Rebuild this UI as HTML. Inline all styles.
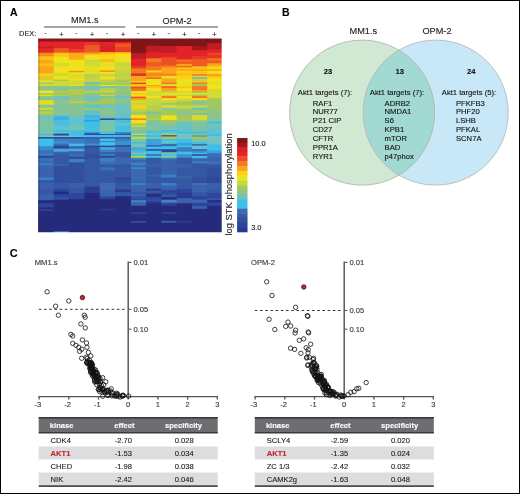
<!DOCTYPE html>
<html><head><meta charset="utf-8"><style>
html,body{margin:0;padding:0;background:#fff;}
#w{position:relative;width:520px;height:494px;overflow:hidden;background:#fff;}
svg{position:absolute;left:0;top:0;}
#lay{position:absolute;left:0;top:0;width:520px;height:494px;will-change:transform;}
svg text{font-family:"Liberation Sans", sans-serif;}
#bd{position:absolute;left:0;top:0;width:520px;height:494px;box-sizing:border-box;border:1px solid #000;}
</style></head><body><div id="w">
<div id="lay"><svg width="520" height="494" viewBox="0 0 520 494">
<defs><filter id="bl" x="-0.05" y="-0.05" width="1.1" height="1.1"><feGaussianBlur stdDeviation="0.6"/></filter><filter id="bl2" x="-0.2" y="-0.05" width="1.4" height="1.1"><feGaussianBlur stdDeviation="0.4"/></filter><clipPath id="hc"><rect x="38.1" y="38.5" width="183.6" height="193.8"/></clipPath></defs>
<text x="9.9" y="16" font-size="10.5" font-weight="bold" fill="#000" stroke="#000" stroke-width="0.12">A</text>
<text x="84.8" y="23.4" font-size="9.2" fill="#222" stroke="#222" stroke-width="0.12" text-anchor="middle">MM1.s</text>
<text x="177.1" y="23.5" font-size="9.2" fill="#222" stroke="#222" stroke-width="0.12" text-anchor="middle">OPM-2</text>
<line x1="43.9" y1="26.9" x2="125.3" y2="26.9" stroke="#878787" stroke-width="1.5"/>
<line x1="136" y1="26.9" x2="218" y2="26.9" stroke="#878787" stroke-width="1.5"/>
<text x="19.1" y="35.6" font-size="7.4" fill="#222" stroke="#222" stroke-width="0.12">DEX:</text>
<text x="45.50" y="35.3" font-size="7.3" fill="#222" stroke="#222" stroke-width="0.12" text-anchor="middle">-</text>
<text x="61.30" y="36.8" font-size="8.0" fill="#222" stroke="#222" stroke-width="0.12" text-anchor="middle">+</text>
<text x="76.25" y="35.3" font-size="7.3" fill="#222" stroke="#222" stroke-width="0.12" text-anchor="middle">-</text>
<text x="92.10" y="36.8" font-size="8.0" fill="#222" stroke="#222" stroke-width="0.12" text-anchor="middle">+</text>
<text x="107.05" y="35.3" font-size="7.3" fill="#222" stroke="#222" stroke-width="0.12" text-anchor="middle">-</text>
<text x="123.05" y="36.8" font-size="8.0" fill="#222" stroke="#222" stroke-width="0.12" text-anchor="middle">+</text>
<text x="138.15" y="35.3" font-size="7.3" fill="#222" stroke="#222" stroke-width="0.12" text-anchor="middle">-</text>
<text x="153.75" y="36.8" font-size="8.0" fill="#222" stroke="#222" stroke-width="0.12" text-anchor="middle">+</text>
<text x="168.60" y="35.3" font-size="7.3" fill="#222" stroke="#222" stroke-width="0.12" text-anchor="middle">-</text>
<text x="184.30" y="36.8" font-size="8.0" fill="#222" stroke="#222" stroke-width="0.12" text-anchor="middle">+</text>
<text x="199.20" y="35.3" font-size="7.3" fill="#222" stroke="#222" stroke-width="0.12" text-anchor="middle">-</text>
<text x="214.45" y="36.8" font-size="8.0" fill="#222" stroke="#222" stroke-width="0.12" text-anchor="middle">+</text>
<g clip-path="url(#hc)"><g filter="url(#bl)"><rect x="35.10" y="35.50" width="19.60" height="7.07" fill="#8a1519"/>
<rect x="35.10" y="41.57" width="19.60" height="6.06" fill="#e8232a"/>
<rect x="35.10" y="46.63" width="19.60" height="2.52" fill="#b8202a"/>
<rect x="35.10" y="48.15" width="19.60" height="5.55" fill="#e02a2a"/>
<rect x="35.10" y="52.70" width="19.60" height="4.54" fill="#f58a1f"/>
<rect x="35.10" y="56.24" width="19.60" height="5.05" fill="#fbbf16"/>
<rect x="35.10" y="60.29" width="19.60" height="4.04" fill="#f9a51b"/>
<rect x="35.10" y="63.33" width="19.60" height="4.04" fill="#fbbf16"/>
<rect x="35.10" y="66.36" width="19.60" height="8.09" fill="#f9a51b"/>
<rect x="35.10" y="73.45" width="19.60" height="3.02" fill="#e2de26"/>
<rect x="35.10" y="75.47" width="19.60" height="4.04" fill="#fbbf16"/>
<rect x="35.10" y="78.51" width="19.60" height="3.02" fill="#c8d63c"/>
<rect x="35.10" y="80.53" width="19.60" height="3.02" fill="#ece220"/>
<rect x="35.10" y="82.56" width="19.60" height="2.01" fill="#6fc2b4"/>
<rect x="35.10" y="83.57" width="19.60" height="2.43" fill="#d5da30"/>
<rect x="35.10" y="85.00" width="19.60" height="2.01" fill="#d5da30"/>
<rect x="35.10" y="86.01" width="19.60" height="5.55" fill="#8ec48a"/>
<rect x="35.10" y="90.57" width="19.60" height="3.53" fill="#e9e520"/>
<rect x="35.10" y="93.10" width="19.60" height="2.52" fill="#a6c85a"/>
<rect x="35.10" y="94.62" width="19.60" height="2.52" fill="#d5da30"/>
<rect x="35.10" y="96.13" width="19.60" height="5.05" fill="#86c494"/>
<rect x="35.10" y="100.18" width="19.60" height="5.55" fill="#e2df24"/>
<rect x="35.10" y="104.74" width="19.60" height="4.04" fill="#86c494"/>
<rect x="35.10" y="107.77" width="19.60" height="3.02" fill="#d5da30"/>
<rect x="35.10" y="109.80" width="19.60" height="2.52" fill="#8ec48a"/>
<rect x="35.10" y="111.32" width="19.60" height="4.04" fill="#b8d04a"/>
<rect x="35.10" y="114.35" width="19.60" height="2.01" fill="#8ec48a"/>
<rect x="35.10" y="115.36" width="19.60" height="5.05" fill="#6fc2c0"/>
<rect x="35.10" y="119.41" width="19.60" height="3.02" fill="#86c494"/>
<rect x="35.10" y="121.44" width="19.60" height="4.04" fill="#75c3b2"/>
<rect x="35.10" y="124.47" width="19.60" height="3.02" fill="#86c494"/>
<rect x="35.10" y="126.50" width="19.60" height="5.05" fill="#75c3b2"/>
<rect x="35.10" y="130.55" width="19.60" height="4.04" fill="#7cc3a6"/>
<rect x="35.10" y="133.58" width="19.60" height="1.42" fill="#4ac0e0"/>
<rect x="35.10" y="134.00" width="19.60" height="2.52" fill="#3dbfe8"/>
<rect x="35.10" y="135.52" width="19.60" height="2.52" fill="#8ec4a0"/>
<rect x="35.10" y="137.04" width="19.60" height="2.52" fill="#2d4899"/>
<rect x="35.10" y="138.55" width="19.60" height="8.59" fill="#3dbfe8"/>
<rect x="35.10" y="146.15" width="19.60" height="5.05" fill="#3a8ad0"/>
<rect x="35.10" y="150.19" width="19.60" height="4.54" fill="#3a70b8"/>
<rect x="35.10" y="153.74" width="19.60" height="3.02" fill="#3a80c5"/>
<rect x="35.10" y="155.76" width="19.60" height="3.02" fill="#2d4899"/>
<rect x="35.10" y="157.79" width="19.60" height="4.54" fill="#3a70b8"/>
<rect x="35.10" y="161.33" width="19.60" height="3.02" fill="#3a68b2"/>
<rect x="35.10" y="163.35" width="19.60" height="3.02" fill="#3a80c5"/>
<rect x="35.10" y="165.38" width="19.60" height="13.15" fill="#3a63ad"/>
<rect x="35.10" y="177.52" width="19.60" height="3.53" fill="#3a80c5"/>
<rect x="35.10" y="180.05" width="19.60" height="3.95" fill="#3558a5"/>
<rect x="35.10" y="183.00" width="19.60" height="7.07" fill="#3a5fac"/>
<rect x="35.10" y="189.07" width="19.60" height="6.06" fill="#3558a5"/>
<rect x="35.10" y="194.13" width="19.60" height="7.07" fill="#3a5fac"/>
<rect x="35.10" y="200.21" width="19.60" height="4.04" fill="#262b7a"/>
<rect x="35.10" y="203.24" width="19.60" height="5.05" fill="#2d44a0"/>
<rect x="35.10" y="207.29" width="19.60" height="3.02" fill="#262b7a"/>
<rect x="35.10" y="209.32" width="19.60" height="2.52" fill="#2d44a0"/>
<rect x="35.10" y="210.83" width="19.60" height="25.47" fill="#262b7a"/>
<rect x="53.70" y="35.50" width="16.20" height="7.07" fill="#8a1519"/>
<rect x="53.70" y="41.57" width="16.20" height="7.58" fill="#e3262a"/>
<rect x="53.70" y="48.15" width="16.20" height="5.55" fill="#ee5a24"/>
<rect x="53.70" y="52.70" width="16.20" height="5.05" fill="#fcc414"/>
<rect x="53.70" y="56.75" width="16.20" height="7.07" fill="#f0e31e"/>
<rect x="53.70" y="62.82" width="16.20" height="4.54" fill="#d4da30"/>
<rect x="53.70" y="66.36" width="16.20" height="8.09" fill="#eee21f"/>
<rect x="53.70" y="73.45" width="16.20" height="3.02" fill="#c8d63c"/>
<rect x="53.70" y="75.47" width="16.20" height="5.05" fill="#eee21f"/>
<rect x="53.70" y="79.52" width="16.20" height="2.52" fill="#a8ca5c"/>
<rect x="53.70" y="81.04" width="16.20" height="4.96" fill="#d0d936"/>
<rect x="53.70" y="85.00" width="16.20" height="2.01" fill="#d0d936"/>
<rect x="53.70" y="86.01" width="16.20" height="5.55" fill="#86c494"/>
<rect x="53.70" y="90.57" width="16.20" height="3.02" fill="#b0cc50"/>
<rect x="53.70" y="92.59" width="16.20" height="3.02" fill="#9ec66a"/>
<rect x="53.70" y="94.62" width="16.20" height="2.52" fill="#b0cc50"/>
<rect x="53.70" y="96.13" width="16.20" height="5.05" fill="#6fc2c0"/>
<rect x="53.70" y="100.18" width="16.20" height="6.06" fill="#8ec48a"/>
<rect x="53.70" y="105.24" width="16.20" height="3.53" fill="#75c3b2"/>
<rect x="53.70" y="107.77" width="16.20" height="7.58" fill="#86c494"/>
<rect x="53.70" y="114.35" width="16.20" height="3.02" fill="#6fc2c0"/>
<rect x="53.70" y="116.38" width="16.20" height="4.54" fill="#3ab0e4"/>
<rect x="53.70" y="119.92" width="16.20" height="6.57" fill="#4ac0e0"/>
<rect x="53.70" y="125.49" width="16.20" height="5.55" fill="#5ec3d0"/>
<rect x="53.70" y="130.04" width="16.20" height="2.52" fill="#3dbfe8"/>
<rect x="53.70" y="131.56" width="16.20" height="3.02" fill="#5ec3d0"/>
<rect x="53.70" y="133.58" width="16.20" height="1.42" fill="#2d4899"/>
<rect x="53.70" y="134.00" width="16.20" height="2.52" fill="#2d4899"/>
<rect x="53.70" y="135.52" width="16.20" height="2.52" fill="#6fc2c0"/>
<rect x="53.70" y="137.04" width="16.20" height="2.52" fill="#2d4899"/>
<rect x="53.70" y="138.55" width="16.20" height="3.53" fill="#3a80c5"/>
<rect x="53.70" y="141.09" width="16.20" height="3.53" fill="#3a90d0"/>
<rect x="53.70" y="143.62" width="16.20" height="3.02" fill="#3a70b8"/>
<rect x="53.70" y="145.64" width="16.20" height="4.04" fill="#2d4899"/>
<rect x="53.70" y="148.68" width="16.20" height="4.04" fill="#4aa8dc"/>
<rect x="53.70" y="151.71" width="16.20" height="3.02" fill="#3a63ad"/>
<rect x="53.70" y="153.74" width="16.20" height="11.63" fill="#3558a5"/>
<rect x="53.70" y="164.36" width="16.20" height="2.52" fill="#3a63ad"/>
<rect x="53.70" y="165.88" width="16.20" height="18.12" fill="#33509f"/>
<rect x="53.70" y="183.00" width="16.20" height="7.07" fill="#3558a5"/>
<rect x="53.70" y="189.07" width="16.20" height="3.53" fill="#2d44a0"/>
<rect x="53.70" y="191.60" width="16.20" height="3.53" fill="#262b7a"/>
<rect x="53.70" y="194.13" width="16.20" height="3.53" fill="#2d44a0"/>
<rect x="53.70" y="196.66" width="16.20" height="4.04" fill="#3050a5"/>
<rect x="53.70" y="199.70" width="16.20" height="32.68" fill="#262b7a"/>
<rect x="53.70" y="231.38" width="16.20" height="4.92" fill="#4a90e0"/>
<rect x="68.90" y="35.50" width="16.50" height="7.07" fill="#8a1519"/>
<rect x="68.90" y="41.57" width="16.50" height="8.59" fill="#e8232a"/>
<rect x="68.90" y="49.16" width="16.50" height="4.54" fill="#ea4027"/>
<rect x="68.90" y="52.70" width="16.50" height="8.09" fill="#fbad19"/>
<rect x="68.90" y="59.79" width="16.50" height="12.13" fill="#f0e31e"/>
<rect x="68.90" y="70.92" width="16.50" height="2.32" fill="#f6921e"/>
<rect x="68.90" y="72.23" width="16.50" height="3.23" fill="#eee21f"/>
<rect x="68.90" y="74.46" width="16.50" height="5.05" fill="#dcdc2c"/>
<rect x="68.90" y="78.51" width="16.50" height="3.02" fill="#ece220"/>
<rect x="68.90" y="80.53" width="16.50" height="5.47" fill="#d0d936"/>
<rect x="68.90" y="85.00" width="16.50" height="2.01" fill="#e9e520"/>
<rect x="68.90" y="86.01" width="16.50" height="4.04" fill="#86c494"/>
<rect x="68.90" y="89.05" width="16.50" height="7.07" fill="#b0cc50"/>
<rect x="68.90" y="95.12" width="16.50" height="7.07" fill="#8ec48a"/>
<rect x="68.90" y="101.19" width="16.50" height="3.02" fill="#b8d04a"/>
<rect x="68.90" y="103.22" width="16.50" height="13.15" fill="#86c494"/>
<rect x="68.90" y="115.36" width="16.50" height="4.04" fill="#6fc2c0"/>
<rect x="68.90" y="118.40" width="16.50" height="8.09" fill="#5ec3d0"/>
<rect x="68.90" y="125.49" width="16.50" height="5.55" fill="#75c3b2"/>
<rect x="68.90" y="130.04" width="16.50" height="3.53" fill="#4ac0e0"/>
<rect x="68.90" y="132.57" width="16.50" height="2.43" fill="#3dbfe8"/>
<rect x="68.90" y="134.00" width="16.50" height="2.52" fill="#3dbfe8"/>
<rect x="68.90" y="135.52" width="16.50" height="2.52" fill="#5ec3d0"/>
<rect x="68.90" y="137.04" width="16.50" height="2.52" fill="#2d4899"/>
<rect x="68.90" y="138.55" width="16.50" height="6.06" fill="#3a80c5"/>
<rect x="68.90" y="143.62" width="16.50" height="3.53" fill="#3dbfe8"/>
<rect x="68.90" y="146.15" width="16.50" height="3.53" fill="#3a63ad"/>
<rect x="68.90" y="148.68" width="16.50" height="3.53" fill="#4aa8dc"/>
<rect x="68.90" y="151.21" width="16.50" height="4.04" fill="#3a63ad"/>
<rect x="68.90" y="154.24" width="16.50" height="3.53" fill="#3a70b8"/>
<rect x="68.90" y="156.77" width="16.50" height="3.02" fill="#2d4899"/>
<rect x="68.90" y="158.80" width="16.50" height="4.54" fill="#3a80c5"/>
<rect x="68.90" y="162.34" width="16.50" height="21.66" fill="#33509f"/>
<rect x="68.90" y="183.00" width="16.50" height="6.06" fill="#3a5fac"/>
<rect x="68.90" y="188.06" width="16.50" height="6.06" fill="#3558a5"/>
<rect x="68.90" y="193.12" width="16.50" height="7.07" fill="#2d44a0"/>
<rect x="68.90" y="199.19" width="16.50" height="37.11" fill="#262b7a"/>
<rect x="84.40" y="35.50" width="16.40" height="7.37" fill="#8e171b"/>
<rect x="84.40" y="41.87" width="16.40" height="4.24" fill="#e8302a"/>
<rect x="84.40" y="45.11" width="16.40" height="8.09" fill="#ec5a25"/>
<rect x="84.40" y="52.19" width="16.40" height="2.52" fill="#f58a1f"/>
<rect x="84.40" y="53.71" width="16.40" height="2.52" fill="#fcc414"/>
<rect x="84.40" y="55.23" width="16.40" height="3.02" fill="#f5e01a"/>
<rect x="84.40" y="57.26" width="16.40" height="3.53" fill="#eee21f"/>
<rect x="84.40" y="59.79" width="16.40" height="3.02" fill="#c8d63c"/>
<rect x="84.40" y="61.81" width="16.40" height="5.55" fill="#d4da30"/>
<rect x="84.40" y="66.36" width="16.40" height="5.05" fill="#e6e023"/>
<rect x="84.40" y="70.41" width="16.40" height="4.54" fill="#e2de26"/>
<rect x="84.40" y="73.96" width="16.40" height="5.55" fill="#b9d348"/>
<rect x="84.40" y="78.51" width="16.40" height="4.54" fill="#c8d63c"/>
<rect x="84.40" y="82.05" width="16.40" height="3.02" fill="#6fc2b4"/>
<rect x="84.40" y="84.08" width="16.40" height="1.92" fill="#a8ca5c"/>
<rect x="84.40" y="85.00" width="16.40" height="2.01" fill="#a6c85a"/>
<rect x="84.40" y="86.01" width="16.40" height="5.55" fill="#75c3b2"/>
<rect x="84.40" y="90.57" width="16.40" height="3.53" fill="#b8d04a"/>
<rect x="84.40" y="93.10" width="16.40" height="4.04" fill="#86c494"/>
<rect x="84.40" y="96.13" width="16.40" height="4.54" fill="#6fc2c0"/>
<rect x="84.40" y="99.68" width="16.40" height="3.53" fill="#86c494"/>
<rect x="84.40" y="102.21" width="16.40" height="3.02" fill="#a6c85a"/>
<rect x="84.40" y="104.23" width="16.40" height="4.54" fill="#64c2c8"/>
<rect x="84.40" y="107.77" width="16.40" height="3.02" fill="#a6c85a"/>
<rect x="84.40" y="109.80" width="16.40" height="6.57" fill="#64c2c8"/>
<rect x="84.40" y="115.36" width="16.40" height="3.02" fill="#3ab0e4"/>
<rect x="84.40" y="117.39" width="16.40" height="3.53" fill="#3dbfe8"/>
<rect x="84.40" y="119.92" width="16.40" height="2.52" fill="#3a9ad8"/>
<rect x="84.40" y="121.44" width="16.40" height="7.07" fill="#3dbfe8"/>
<rect x="84.40" y="127.51" width="16.40" height="3.53" fill="#4ac0e0"/>
<rect x="84.40" y="130.04" width="16.40" height="3.53" fill="#3dbfe8"/>
<rect x="84.40" y="132.57" width="16.40" height="2.43" fill="#3a63ad"/>
<rect x="84.40" y="134.00" width="16.40" height="2.01" fill="#2d4899"/>
<rect x="84.40" y="135.01" width="16.40" height="3.02" fill="#3dbfe8"/>
<rect x="84.40" y="137.04" width="16.40" height="2.52" fill="#3558a5"/>
<rect x="84.40" y="138.55" width="16.40" height="6.06" fill="#3a70b8"/>
<rect x="84.40" y="143.62" width="16.40" height="3.02" fill="#3a90d0"/>
<rect x="84.40" y="145.64" width="16.40" height="2.52" fill="#2d4899"/>
<rect x="84.40" y="147.16" width="16.40" height="8.09" fill="#3558a5"/>
<rect x="84.40" y="154.24" width="16.40" height="5.05" fill="#31509f"/>
<rect x="84.40" y="158.29" width="16.40" height="25.71" fill="#3558a5"/>
<rect x="84.40" y="183.00" width="16.40" height="4.54" fill="#3558a5"/>
<rect x="84.40" y="186.54" width="16.40" height="7.58" fill="#2d3a95"/>
<rect x="84.40" y="193.12" width="16.40" height="43.18" fill="#262b7a"/>
<rect x="99.80" y="35.50" width="16.30" height="7.37" fill="#7d1517"/>
<rect x="99.80" y="41.87" width="16.30" height="5.25" fill="#e3222a"/>
<rect x="99.80" y="46.12" width="16.30" height="6.06" fill="#d92027"/>
<rect x="99.80" y="51.18" width="16.30" height="2.01" fill="#e3222a"/>
<rect x="99.80" y="52.19" width="16.30" height="3.53" fill="#fbbf16"/>
<rect x="99.80" y="54.72" width="16.30" height="5.55" fill="#f9d71a"/>
<rect x="99.80" y="59.28" width="16.30" height="3.53" fill="#fbbb16"/>
<rect x="99.80" y="61.81" width="16.30" height="5.55" fill="#e6e023"/>
<rect x="99.80" y="66.36" width="16.30" height="5.05" fill="#f5e01a"/>
<rect x="99.80" y="70.41" width="16.30" height="2.52" fill="#f6921e"/>
<rect x="99.80" y="71.93" width="16.30" height="3.02" fill="#ebe221"/>
<rect x="99.80" y="73.96" width="16.30" height="3.53" fill="#c8d63c"/>
<rect x="99.80" y="76.49" width="16.30" height="4.04" fill="#f5e01a"/>
<rect x="99.80" y="79.52" width="16.30" height="3.53" fill="#b9d348"/>
<rect x="99.80" y="82.05" width="16.30" height="3.95" fill="#a8ca5c"/>
<rect x="99.80" y="85.00" width="16.30" height="2.01" fill="#e9e520"/>
<rect x="99.80" y="86.01" width="16.30" height="3.02" fill="#75c3b2"/>
<rect x="99.80" y="88.04" width="16.30" height="4.04" fill="#b8d04a"/>
<rect x="99.80" y="91.07" width="16.30" height="2.52" fill="#c8d63c"/>
<rect x="99.80" y="92.59" width="16.30" height="3.02" fill="#8ec48a"/>
<rect x="99.80" y="94.62" width="16.30" height="2.52" fill="#c8d63c"/>
<rect x="99.80" y="96.13" width="16.30" height="2.52" fill="#75c3b2"/>
<rect x="99.80" y="97.65" width="16.30" height="7.58" fill="#a6c85a"/>
<rect x="99.80" y="104.23" width="16.30" height="5.05" fill="#6fc2c0"/>
<rect x="99.80" y="108.28" width="16.30" height="3.53" fill="#86c494"/>
<rect x="99.80" y="110.81" width="16.30" height="5.55" fill="#8ec48a"/>
<rect x="99.80" y="115.36" width="16.30" height="4.04" fill="#6fc2c0"/>
<rect x="99.80" y="118.40" width="16.30" height="2.52" fill="#2d4899"/>
<rect x="99.80" y="119.92" width="16.30" height="6.57" fill="#75c3b2"/>
<rect x="99.80" y="125.49" width="16.30" height="7.07" fill="#80c3a0"/>
<rect x="99.80" y="131.56" width="16.30" height="3.44" fill="#4ac0e0"/>
<rect x="99.80" y="134.00" width="16.30" height="2.01" fill="#33509f"/>
<rect x="99.80" y="135.01" width="16.30" height="3.02" fill="#3dbfe8"/>
<rect x="99.80" y="137.04" width="16.30" height="2.52" fill="#3558a5"/>
<rect x="99.80" y="138.55" width="16.30" height="3.53" fill="#45c0e8"/>
<rect x="99.80" y="141.09" width="16.30" height="2.01" fill="#3a80c5"/>
<rect x="99.80" y="142.10" width="16.30" height="4.54" fill="#3dbfe8"/>
<rect x="99.80" y="145.64" width="16.30" height="2.52" fill="#2d4899"/>
<rect x="99.80" y="147.16" width="16.30" height="3.53" fill="#4aa8dc"/>
<rect x="99.80" y="149.69" width="16.30" height="3.53" fill="#3a80c5"/>
<rect x="99.80" y="152.22" width="16.30" height="2.52" fill="#3558a5"/>
<rect x="99.80" y="153.74" width="16.30" height="3.02" fill="#3a80c5"/>
<rect x="99.80" y="155.76" width="16.30" height="3.02" fill="#2d4899"/>
<rect x="99.80" y="157.79" width="16.30" height="4.54" fill="#3a80c5"/>
<rect x="99.80" y="161.33" width="16.30" height="4.04" fill="#3a70b8"/>
<rect x="99.80" y="164.36" width="16.30" height="4.04" fill="#3558a5"/>
<rect x="99.80" y="167.40" width="16.30" height="4.04" fill="#3a70b8"/>
<rect x="99.80" y="170.44" width="16.30" height="13.56" fill="#3558a5"/>
<rect x="99.80" y="183.00" width="16.30" height="8.09" fill="#4068b5"/>
<rect x="99.80" y="190.09" width="16.30" height="7.58" fill="#3a63ad"/>
<rect x="99.80" y="196.66" width="16.30" height="3.53" fill="#2d44a0"/>
<rect x="99.80" y="199.19" width="16.30" height="10.62" fill="#262b7a"/>
<rect x="99.80" y="208.81" width="16.30" height="2.52" fill="#2d3a90"/>
<rect x="99.80" y="210.33" width="16.30" height="25.97" fill="#262b7a"/>
<rect x="115.10" y="35.50" width="16.90" height="7.37" fill="#8e171b"/>
<rect x="115.10" y="41.87" width="16.90" height="2.72" fill="#e3262a"/>
<rect x="115.10" y="43.59" width="16.90" height="4.54" fill="#ee5a24"/>
<rect x="115.10" y="47.13" width="16.90" height="6.06" fill="#e8402a"/>
<rect x="115.10" y="52.19" width="16.90" height="2.52" fill="#fcc414"/>
<rect x="115.10" y="53.71" width="16.90" height="4.54" fill="#f9e01a"/>
<rect x="115.10" y="57.26" width="16.90" height="6.06" fill="#eee21f"/>
<rect x="115.10" y="62.32" width="16.90" height="5.05" fill="#c8d63c"/>
<rect x="115.10" y="66.36" width="16.90" height="4.04" fill="#d4da30"/>
<rect x="115.10" y="69.40" width="16.90" height="5.05" fill="#c4d640"/>
<rect x="115.10" y="73.45" width="16.90" height="4.04" fill="#b9d348"/>
<rect x="115.10" y="76.49" width="16.90" height="4.04" fill="#c8d63c"/>
<rect x="115.10" y="79.52" width="16.90" height="6.48" fill="#a8ca5c"/>
<rect x="115.10" y="85.00" width="16.90" height="2.01" fill="#d5da30"/>
<rect x="115.10" y="86.01" width="16.90" height="4.04" fill="#86c494"/>
<rect x="115.10" y="89.05" width="16.90" height="3.02" fill="#a6c85a"/>
<rect x="115.10" y="91.07" width="16.90" height="6.06" fill="#8ec48a"/>
<rect x="115.10" y="96.13" width="16.90" height="3.02" fill="#64c2c8"/>
<rect x="115.10" y="98.16" width="16.90" height="7.07" fill="#86c494"/>
<rect x="115.10" y="104.23" width="16.90" height="11.12" fill="#6fc2c0"/>
<rect x="115.10" y="114.35" width="16.90" height="5.05" fill="#64c2c8"/>
<rect x="115.10" y="118.40" width="16.90" height="2.52" fill="#3a80c5"/>
<rect x="115.10" y="119.92" width="16.90" height="4.54" fill="#4ac0e0"/>
<rect x="115.10" y="123.46" width="16.90" height="3.02" fill="#6fc2c0"/>
<rect x="115.10" y="125.49" width="16.90" height="4.04" fill="#3dbfe8"/>
<rect x="115.10" y="128.52" width="16.90" height="4.54" fill="#4ac0e0"/>
<rect x="115.10" y="132.06" width="16.90" height="2.94" fill="#3a80c5"/>
<rect x="115.10" y="134.00" width="16.90" height="2.01" fill="#33509f"/>
<rect x="115.10" y="135.01" width="16.90" height="3.02" fill="#3dbfe8"/>
<rect x="115.10" y="137.04" width="16.90" height="2.52" fill="#3558a5"/>
<rect x="115.10" y="138.55" width="16.90" height="3.53" fill="#3a80c5"/>
<rect x="115.10" y="141.09" width="16.90" height="5.05" fill="#3a90d0"/>
<rect x="115.10" y="145.13" width="16.90" height="2.52" fill="#2d4899"/>
<rect x="115.10" y="146.65" width="16.90" height="6.57" fill="#3a70b8"/>
<rect x="115.10" y="152.22" width="16.90" height="6.06" fill="#3558a5"/>
<rect x="115.10" y="157.28" width="16.90" height="8.09" fill="#3a68b2"/>
<rect x="115.10" y="164.36" width="16.90" height="14.16" fill="#3558a5"/>
<rect x="115.10" y="177.52" width="16.90" height="3.02" fill="#2d4899"/>
<rect x="115.10" y="179.55" width="16.90" height="4.45" fill="#33509f"/>
<rect x="115.10" y="183.00" width="16.90" height="7.58" fill="#3558a5"/>
<rect x="115.10" y="189.58" width="16.90" height="3.53" fill="#2d3a95"/>
<rect x="115.10" y="192.11" width="16.90" height="5.05" fill="#3558a5"/>
<rect x="115.10" y="196.16" width="16.90" height="40.14" fill="#262b7a"/>
<rect x="131.00" y="35.50" width="16.10" height="12.63" fill="#7d1517"/>
<rect x="131.00" y="47.13" width="16.10" height="7.07" fill="#861719"/>
<rect x="131.00" y="53.21" width="16.10" height="6.57" fill="#c01e25"/>
<rect x="131.00" y="58.77" width="16.10" height="8.09" fill="#e3222a"/>
<rect x="131.00" y="65.86" width="16.10" height="3.53" fill="#ea3d28"/>
<rect x="131.00" y="68.39" width="16.10" height="6.06" fill="#f47a20"/>
<rect x="131.00" y="73.45" width="16.10" height="3.53" fill="#e3322a"/>
<rect x="131.00" y="75.98" width="16.10" height="6.06" fill="#f9a51b"/>
<rect x="131.00" y="81.04" width="16.10" height="2.52" fill="#fdd20f"/>
<rect x="131.00" y="82.56" width="16.10" height="2.52" fill="#e8402a"/>
<rect x="131.00" y="84.08" width="16.10" height="1.92" fill="#fdd20f"/>
<rect x="131.00" y="85.00" width="16.10" height="2.52" fill="#fdd20f"/>
<rect x="131.00" y="86.52" width="16.10" height="3.02" fill="#ec5025"/>
<rect x="131.00" y="88.54" width="16.10" height="3.53" fill="#f47a20"/>
<rect x="131.00" y="91.07" width="16.10" height="3.02" fill="#e9e520"/>
<rect x="131.00" y="93.10" width="16.10" height="2.52" fill="#fcc414"/>
<rect x="131.00" y="94.62" width="16.10" height="3.02" fill="#e9e520"/>
<rect x="131.00" y="96.64" width="16.10" height="2.52" fill="#ec5025"/>
<rect x="131.00" y="98.16" width="16.10" height="3.02" fill="#f9a51b"/>
<rect x="131.00" y="100.18" width="16.10" height="3.53" fill="#d5da30"/>
<rect x="131.00" y="102.71" width="16.10" height="3.53" fill="#c8d63c"/>
<rect x="131.00" y="105.24" width="16.10" height="4.04" fill="#fdd20f"/>
<rect x="131.00" y="108.28" width="16.10" height="2.52" fill="#c8d63c"/>
<rect x="131.00" y="109.80" width="16.10" height="3.02" fill="#b8d04a"/>
<rect x="131.00" y="111.82" width="16.10" height="4.04" fill="#a6c85a"/>
<rect x="131.00" y="114.86" width="16.10" height="4.54" fill="#f5e01a"/>
<rect x="131.00" y="118.40" width="16.10" height="2.52" fill="#f47a20"/>
<rect x="131.00" y="119.92" width="16.10" height="4.54" fill="#f5e01a"/>
<rect x="131.00" y="123.46" width="16.10" height="3.02" fill="#a6c85a"/>
<rect x="131.00" y="125.49" width="16.10" height="2.52" fill="#c8d63c"/>
<rect x="131.00" y="127.00" width="16.10" height="4.54" fill="#8ec48a"/>
<rect x="131.00" y="130.55" width="16.10" height="4.04" fill="#7cc3a6"/>
<rect x="131.00" y="133.58" width="16.10" height="1.42" fill="#c8d63c"/>
<rect x="131.00" y="134.00" width="16.10" height="2.01" fill="#c8d63c"/>
<rect x="131.00" y="135.01" width="16.10" height="2.52" fill="#3dbfe8"/>
<rect x="131.00" y="136.53" width="16.10" height="3.53" fill="#c8d63c"/>
<rect x="131.00" y="139.06" width="16.10" height="2.01" fill="#5ec3d0"/>
<rect x="131.00" y="140.07" width="16.10" height="3.02" fill="#86c494"/>
<rect x="131.00" y="142.10" width="16.10" height="2.52" fill="#3dbfe8"/>
<rect x="131.00" y="143.62" width="16.10" height="4.54" fill="#75c3b2"/>
<rect x="131.00" y="147.16" width="16.10" height="4.54" fill="#4aa8dc"/>
<rect x="131.00" y="150.70" width="16.10" height="3.02" fill="#3dbfe8"/>
<rect x="131.00" y="152.72" width="16.10" height="2.52" fill="#86c494"/>
<rect x="131.00" y="154.24" width="16.10" height="2.52" fill="#3dbfe8"/>
<rect x="131.00" y="155.76" width="16.10" height="3.02" fill="#b8d04a"/>
<rect x="131.00" y="157.79" width="16.10" height="3.02" fill="#3a80c5"/>
<rect x="131.00" y="159.81" width="16.10" height="3.53" fill="#3a63ad"/>
<rect x="131.00" y="162.34" width="16.10" height="4.04" fill="#3a80c5"/>
<rect x="131.00" y="165.38" width="16.10" height="3.02" fill="#3a63ad"/>
<rect x="131.00" y="167.40" width="16.10" height="2.52" fill="#3a90d0"/>
<rect x="131.00" y="168.92" width="16.10" height="13.65" fill="#3a68b2"/>
<rect x="131.00" y="181.57" width="16.10" height="2.43" fill="#3a63ad"/>
<rect x="131.00" y="183.00" width="16.10" height="3.02" fill="#3a80c5"/>
<rect x="131.00" y="185.02" width="16.10" height="8.09" fill="#3a63ad"/>
<rect x="131.00" y="192.11" width="16.10" height="3.02" fill="#3558a5"/>
<rect x="131.00" y="194.13" width="16.10" height="3.02" fill="#3a63ad"/>
<rect x="131.00" y="196.16" width="16.10" height="4.04" fill="#3050a5"/>
<rect x="131.00" y="199.19" width="16.10" height="2.01" fill="#2d44a0"/>
<rect x="131.00" y="200.21" width="16.10" height="3.02" fill="#4a80c8"/>
<rect x="131.00" y="202.23" width="16.10" height="4.54" fill="#3a63ad"/>
<rect x="131.00" y="205.77" width="16.10" height="7.58" fill="#262b7a"/>
<rect x="131.00" y="212.35" width="16.10" height="2.52" fill="#2d44a0"/>
<rect x="131.00" y="213.87" width="16.10" height="8.09" fill="#262b7a"/>
<rect x="131.00" y="220.96" width="16.10" height="2.72" fill="#3050a5"/>
<rect x="131.00" y="222.68" width="16.10" height="13.62" fill="#262b7a"/>
<rect x="146.10" y="35.50" width="16.30" height="11.12" fill="#7d1517"/>
<rect x="146.10" y="45.62" width="16.30" height="7.58" fill="#c01e25"/>
<rect x="146.10" y="52.19" width="16.30" height="7.07" fill="#e3222a"/>
<rect x="146.10" y="58.27" width="16.30" height="5.05" fill="#f47a20"/>
<rect x="146.10" y="62.32" width="16.30" height="5.05" fill="#ee5a24"/>
<rect x="146.10" y="66.36" width="16.30" height="5.05" fill="#f47a20"/>
<rect x="146.10" y="70.41" width="16.30" height="3.02" fill="#fbd414"/>
<rect x="146.10" y="72.44" width="16.30" height="4.54" fill="#f58a1f"/>
<rect x="146.10" y="75.98" width="16.30" height="2.52" fill="#f9a51b"/>
<rect x="146.10" y="77.50" width="16.30" height="2.52" fill="#f06a22"/>
<rect x="146.10" y="79.02" width="16.30" height="6.98" fill="#eee21f"/>
<rect x="146.10" y="85.00" width="16.30" height="2.01" fill="#f9a51b"/>
<rect x="146.10" y="86.01" width="16.30" height="3.02" fill="#fcc414"/>
<rect x="146.10" y="88.04" width="16.30" height="4.04" fill="#f5e01a"/>
<rect x="146.10" y="91.07" width="16.30" height="6.06" fill="#d5da30"/>
<rect x="146.10" y="96.13" width="16.30" height="3.02" fill="#f5e01a"/>
<rect x="146.10" y="98.16" width="16.30" height="8.09" fill="#c8d63c"/>
<rect x="146.10" y="105.24" width="16.30" height="7.07" fill="#b8d04a"/>
<rect x="146.10" y="111.32" width="16.30" height="4.04" fill="#86c494"/>
<rect x="146.10" y="114.35" width="16.30" height="5.05" fill="#a6c85a"/>
<rect x="146.10" y="118.40" width="16.30" height="2.52" fill="#b8d04a"/>
<rect x="146.10" y="119.92" width="16.30" height="4.54" fill="#86c494"/>
<rect x="146.10" y="123.46" width="16.30" height="4.04" fill="#75c3b2"/>
<rect x="146.10" y="126.50" width="16.30" height="5.05" fill="#86c494"/>
<rect x="146.10" y="130.55" width="16.30" height="4.04" fill="#4ac0e0"/>
<rect x="146.10" y="133.58" width="16.30" height="1.42" fill="#75c3b2"/>
<rect x="146.10" y="134.00" width="16.30" height="2.01" fill="#75c3b2"/>
<rect x="146.10" y="135.01" width="16.30" height="3.02" fill="#3dbfe8"/>
<rect x="146.10" y="137.04" width="16.30" height="3.02" fill="#75c3b2"/>
<rect x="146.10" y="139.06" width="16.30" height="7.07" fill="#3aa0dc"/>
<rect x="146.10" y="145.13" width="16.30" height="2.52" fill="#3a63ad"/>
<rect x="146.10" y="146.65" width="16.30" height="3.53" fill="#3dbfe8"/>
<rect x="146.10" y="149.18" width="16.30" height="2.52" fill="#2d4899"/>
<rect x="146.10" y="150.70" width="16.30" height="4.54" fill="#3dbfe8"/>
<rect x="146.10" y="154.24" width="16.30" height="2.52" fill="#3a63ad"/>
<rect x="146.10" y="155.76" width="16.30" height="3.02" fill="#3dbfe8"/>
<rect x="146.10" y="157.79" width="16.30" height="7.58" fill="#3558a5"/>
<rect x="146.10" y="164.36" width="16.30" height="3.02" fill="#3a63ad"/>
<rect x="146.10" y="166.39" width="16.30" height="9.10" fill="#3558a5"/>
<rect x="146.10" y="174.49" width="16.30" height="3.02" fill="#3a63ad"/>
<rect x="146.10" y="176.51" width="16.30" height="7.49" fill="#3558a5"/>
<rect x="146.10" y="183.00" width="16.30" height="6.57" fill="#3a5fac"/>
<rect x="146.10" y="188.57" width="16.30" height="3.02" fill="#2d3a95"/>
<rect x="146.10" y="190.59" width="16.30" height="4.04" fill="#3558a5"/>
<rect x="146.10" y="193.63" width="16.30" height="4.04" fill="#262d7c"/>
<rect x="146.10" y="196.66" width="16.30" height="3.53" fill="#2d44a0"/>
<rect x="146.10" y="199.19" width="16.30" height="3.02" fill="#3050a5"/>
<rect x="146.10" y="201.22" width="16.30" height="3.02" fill="#2d3a95"/>
<rect x="146.10" y="203.24" width="16.30" height="33.06" fill="#262b7a"/>
<rect x="161.40" y="35.50" width="16.20" height="11.62" fill="#7d1517"/>
<rect x="161.40" y="46.12" width="16.20" height="7.58" fill="#c41e26"/>
<rect x="161.40" y="52.70" width="16.20" height="5.55" fill="#e3222a"/>
<rect x="161.40" y="57.26" width="16.20" height="9.10" fill="#ec5025"/>
<rect x="161.40" y="65.35" width="16.20" height="3.02" fill="#f47a20"/>
<rect x="161.40" y="67.38" width="16.20" height="7.07" fill="#f9a51b"/>
<rect x="161.40" y="73.45" width="16.20" height="3.53" fill="#f58a1f"/>
<rect x="161.40" y="75.98" width="16.20" height="3.53" fill="#f5e01a"/>
<rect x="161.40" y="78.51" width="16.20" height="5.05" fill="#f9a51b"/>
<rect x="161.40" y="82.56" width="16.20" height="2.52" fill="#f47a20"/>
<rect x="161.40" y="84.08" width="16.20" height="1.92" fill="#d4da30"/>
<rect x="161.40" y="85.00" width="16.20" height="2.01" fill="#e9e520"/>
<rect x="161.40" y="86.01" width="16.20" height="3.02" fill="#f06a22"/>
<rect x="161.40" y="88.04" width="16.20" height="4.04" fill="#f9a51b"/>
<rect x="161.40" y="91.07" width="16.20" height="3.02" fill="#c8d63c"/>
<rect x="161.40" y="93.10" width="16.20" height="2.52" fill="#f5e01a"/>
<rect x="161.40" y="94.62" width="16.20" height="2.52" fill="#c8d63c"/>
<rect x="161.40" y="96.13" width="16.20" height="3.02" fill="#f47a20"/>
<rect x="161.40" y="98.16" width="16.20" height="3.02" fill="#f9e01a"/>
<rect x="161.40" y="100.18" width="16.20" height="4.04" fill="#c8d63c"/>
<rect x="161.40" y="103.22" width="16.20" height="2.52" fill="#8ec48a"/>
<rect x="161.40" y="104.74" width="16.20" height="4.54" fill="#d5da30"/>
<rect x="161.40" y="108.28" width="16.20" height="2.52" fill="#6fc2c0"/>
<rect x="161.40" y="109.80" width="16.20" height="6.57" fill="#a6c85a"/>
<rect x="161.40" y="115.36" width="16.20" height="4.04" fill="#e9e520"/>
<rect x="161.40" y="118.40" width="16.20" height="2.52" fill="#f5e01a"/>
<rect x="161.40" y="119.92" width="16.20" height="3.53" fill="#a6c85a"/>
<rect x="161.40" y="122.45" width="16.20" height="4.04" fill="#8ec48a"/>
<rect x="161.40" y="125.49" width="16.20" height="5.55" fill="#75c3b2"/>
<rect x="161.40" y="130.04" width="16.20" height="3.02" fill="#3dbfe8"/>
<rect x="161.40" y="132.06" width="16.20" height="2.94" fill="#75c3b2"/>
<rect x="161.40" y="134.00" width="16.20" height="2.01" fill="#b8d04a"/>
<rect x="161.40" y="135.01" width="16.20" height="2.52" fill="#3a63ad"/>
<rect x="161.40" y="136.53" width="16.20" height="3.53" fill="#a6c85a"/>
<rect x="161.40" y="139.06" width="16.20" height="3.02" fill="#3dbfe8"/>
<rect x="161.40" y="141.09" width="16.20" height="2.52" fill="#75c3b2"/>
<rect x="161.40" y="142.60" width="16.20" height="2.52" fill="#3dbfe8"/>
<rect x="161.40" y="144.12" width="16.20" height="3.02" fill="#3a63ad"/>
<rect x="161.40" y="146.15" width="16.20" height="4.04" fill="#3dbfe8"/>
<rect x="161.40" y="149.18" width="16.20" height="4.04" fill="#2d4899"/>
<rect x="161.40" y="152.22" width="16.20" height="3.02" fill="#75c3b2"/>
<rect x="161.40" y="154.24" width="16.20" height="2.52" fill="#3dbfe8"/>
<rect x="161.40" y="155.76" width="16.20" height="3.02" fill="#86c494"/>
<rect x="161.40" y="157.79" width="16.20" height="2.52" fill="#3a80c5"/>
<rect x="161.40" y="159.30" width="16.20" height="16.18" fill="#3a63ad"/>
<rect x="161.40" y="174.49" width="16.20" height="4.04" fill="#3a80c5"/>
<rect x="161.40" y="177.52" width="16.20" height="6.48" fill="#3558a5"/>
<rect x="161.40" y="183.00" width="16.20" height="3.53" fill="#3a80c5"/>
<rect x="161.40" y="185.53" width="16.20" height="5.55" fill="#3a63ad"/>
<rect x="161.40" y="190.09" width="16.20" height="5.05" fill="#2d44a0"/>
<rect x="161.40" y="194.13" width="16.20" height="4.04" fill="#3558a5"/>
<rect x="161.40" y="197.17" width="16.20" height="3.53" fill="#262d7c"/>
<rect x="161.40" y="199.70" width="16.20" height="4.04" fill="#4a80c8"/>
<rect x="161.40" y="202.74" width="16.20" height="4.04" fill="#2d44a0"/>
<rect x="161.40" y="205.77" width="16.20" height="7.58" fill="#262b7a"/>
<rect x="161.40" y="212.35" width="16.20" height="2.52" fill="#2d44a0"/>
<rect x="161.40" y="213.87" width="16.20" height="8.09" fill="#262b7a"/>
<rect x="161.40" y="220.96" width="16.20" height="2.72" fill="#3a63ad"/>
<rect x="161.40" y="222.68" width="16.20" height="13.62" fill="#262b7a"/>
<rect x="176.60" y="35.50" width="16.40" height="11.62" fill="#7d1517"/>
<rect x="176.60" y="46.12" width="16.40" height="14.16" fill="#e3222a"/>
<rect x="176.60" y="59.28" width="16.40" height="4.04" fill="#f06a22"/>
<rect x="176.60" y="62.32" width="16.40" height="2.52" fill="#ee5025"/>
<rect x="176.60" y="63.83" width="16.40" height="3.02" fill="#f9a51b"/>
<rect x="176.60" y="65.86" width="16.40" height="2.52" fill="#f06a22"/>
<rect x="176.60" y="67.38" width="16.40" height="3.02" fill="#fbc414"/>
<rect x="176.60" y="69.40" width="16.40" height="2.52" fill="#f9a51b"/>
<rect x="176.60" y="70.92" width="16.40" height="3.02" fill="#fdd20f"/>
<rect x="176.60" y="72.94" width="16.40" height="4.04" fill="#fbbf16"/>
<rect x="176.60" y="75.98" width="16.40" height="4.54" fill="#fdd20f"/>
<rect x="176.60" y="79.52" width="16.40" height="4.04" fill="#f0e31e"/>
<rect x="176.60" y="82.56" width="16.40" height="3.44" fill="#e6e023"/>
<rect x="176.60" y="85.00" width="16.40" height="2.01" fill="#e9e520"/>
<rect x="176.60" y="86.01" width="16.40" height="3.02" fill="#fcc414"/>
<rect x="176.60" y="88.04" width="16.40" height="4.04" fill="#f5e01a"/>
<rect x="176.60" y="91.07" width="16.40" height="3.02" fill="#d5da30"/>
<rect x="176.60" y="93.10" width="16.40" height="2.52" fill="#f5e01a"/>
<rect x="176.60" y="94.62" width="16.40" height="2.52" fill="#c8d63c"/>
<rect x="176.60" y="96.13" width="16.40" height="3.53" fill="#f5e01a"/>
<rect x="176.60" y="98.66" width="16.40" height="3.53" fill="#c8d63c"/>
<rect x="176.60" y="101.19" width="16.40" height="5.05" fill="#a6c85a"/>
<rect x="176.60" y="105.24" width="16.40" height="4.04" fill="#c8d63c"/>
<rect x="176.60" y="108.28" width="16.40" height="3.02" fill="#a6c85a"/>
<rect x="176.60" y="110.30" width="16.40" height="6.06" fill="#8ec48a"/>
<rect x="176.60" y="115.36" width="16.40" height="7.07" fill="#a6c85a"/>
<rect x="176.60" y="121.44" width="16.40" height="5.05" fill="#6fc2c0"/>
<rect x="176.60" y="125.49" width="16.40" height="7.07" fill="#64c2c8"/>
<rect x="176.60" y="131.56" width="16.40" height="3.02" fill="#3dbfe8"/>
<rect x="176.60" y="133.58" width="16.40" height="1.42" fill="#6fc2c0"/>
<rect x="176.60" y="134.00" width="16.40" height="6.06" fill="#75c3c0"/>
<rect x="176.60" y="139.06" width="16.40" height="5.05" fill="#3dbfe8"/>
<rect x="176.60" y="143.11" width="16.40" height="3.53" fill="#3aa0dc"/>
<rect x="176.60" y="145.64" width="16.40" height="2.52" fill="#3dbfe8"/>
<rect x="176.60" y="147.16" width="16.40" height="5.55" fill="#3a80c5"/>
<rect x="176.60" y="151.71" width="16.40" height="3.53" fill="#3dbfe8"/>
<rect x="176.60" y="154.24" width="16.40" height="4.54" fill="#3a90d0"/>
<rect x="176.60" y="157.79" width="16.40" height="7.58" fill="#3558a5"/>
<rect x="176.60" y="164.36" width="16.40" height="4.04" fill="#3a63ad"/>
<rect x="176.60" y="167.40" width="16.40" height="10.11" fill="#3558a5"/>
<rect x="176.60" y="176.51" width="16.40" height="3.02" fill="#3a63ad"/>
<rect x="176.60" y="178.53" width="16.40" height="5.47" fill="#3558a5"/>
<rect x="176.60" y="183.00" width="16.40" height="7.07" fill="#3558a5"/>
<rect x="176.60" y="189.07" width="16.40" height="5.05" fill="#2d44a0"/>
<rect x="176.60" y="193.12" width="16.40" height="6.06" fill="#2d3a95"/>
<rect x="176.60" y="198.18" width="16.40" height="6.06" fill="#3a63ad"/>
<rect x="176.60" y="203.24" width="16.40" height="18.71" fill="#262b7a"/>
<rect x="176.60" y="220.96" width="16.40" height="2.52" fill="#2d3a95"/>
<rect x="176.60" y="222.47" width="16.40" height="13.83" fill="#262b7a"/>
<rect x="192.00" y="35.50" width="16.20" height="11.62" fill="#7d1517"/>
<rect x="192.00" y="46.12" width="16.20" height="5.05" fill="#a8191f"/>
<rect x="192.00" y="50.17" width="16.20" height="7.07" fill="#e3222a"/>
<rect x="192.00" y="56.24" width="16.20" height="4.04" fill="#ea3a28"/>
<rect x="192.00" y="59.28" width="16.20" height="8.09" fill="#ee5a24"/>
<rect x="192.00" y="66.36" width="16.20" height="4.04" fill="#fbbf16"/>
<rect x="192.00" y="69.40" width="16.20" height="2.52" fill="#f9a51b"/>
<rect x="192.00" y="70.92" width="16.20" height="4.04" fill="#fcc414"/>
<rect x="192.00" y="73.96" width="16.20" height="3.02" fill="#f58a1f"/>
<rect x="192.00" y="75.98" width="16.20" height="2.01" fill="#fdd20f"/>
<rect x="192.00" y="76.99" width="16.20" height="3.02" fill="#6fc2b4"/>
<rect x="192.00" y="79.02" width="16.20" height="3.02" fill="#fcc414"/>
<rect x="192.00" y="81.04" width="16.20" height="2.52" fill="#c8d63c"/>
<rect x="192.00" y="82.56" width="16.20" height="2.52" fill="#f47a20"/>
<rect x="192.00" y="84.08" width="16.20" height="1.92" fill="#a6c85a"/>
<rect x="192.00" y="85.00" width="16.20" height="2.01" fill="#a6c85a"/>
<rect x="192.00" y="86.01" width="16.20" height="5.05" fill="#f47a20"/>
<rect x="192.00" y="90.06" width="16.20" height="2.52" fill="#f9a51b"/>
<rect x="192.00" y="91.58" width="16.20" height="2.52" fill="#a6c85a"/>
<rect x="192.00" y="93.10" width="16.20" height="2.52" fill="#f5e01a"/>
<rect x="192.00" y="94.62" width="16.20" height="2.52" fill="#a6c85a"/>
<rect x="192.00" y="96.13" width="16.20" height="3.02" fill="#f47a20"/>
<rect x="192.00" y="98.16" width="16.20" height="3.02" fill="#f9e01a"/>
<rect x="192.00" y="100.18" width="16.20" height="6.06" fill="#8ec48a"/>
<rect x="192.00" y="105.24" width="16.20" height="3.53" fill="#c8d63c"/>
<rect x="192.00" y="107.77" width="16.20" height="3.02" fill="#5ec3d0"/>
<rect x="192.00" y="109.80" width="16.20" height="4.54" fill="#a6c85a"/>
<rect x="192.00" y="113.34" width="16.20" height="2.52" fill="#64c2c8"/>
<rect x="192.00" y="114.86" width="16.20" height="6.57" fill="#d5da30"/>
<rect x="192.00" y="120.43" width="16.20" height="3.02" fill="#8ec48a"/>
<rect x="192.00" y="122.45" width="16.20" height="10.11" fill="#7cc3a6"/>
<rect x="192.00" y="131.56" width="16.20" height="3.02" fill="#3dbfe8"/>
<rect x="192.00" y="133.58" width="16.20" height="1.42" fill="#7cc3a6"/>
<rect x="192.00" y="134.00" width="16.20" height="2.52" fill="#8ec48a"/>
<rect x="192.00" y="135.52" width="16.20" height="2.01" fill="#3a80c5"/>
<rect x="192.00" y="136.53" width="16.20" height="3.53" fill="#a6c85a"/>
<rect x="192.00" y="139.06" width="16.20" height="4.04" fill="#75c3b2"/>
<rect x="192.00" y="142.10" width="16.20" height="3.02" fill="#3dbfe8"/>
<rect x="192.00" y="144.12" width="16.20" height="2.52" fill="#3a63ad"/>
<rect x="192.00" y="145.64" width="16.20" height="4.54" fill="#5ec3d0"/>
<rect x="192.00" y="149.18" width="16.20" height="2.52" fill="#3a63ad"/>
<rect x="192.00" y="150.70" width="16.20" height="3.02" fill="#3a90d0"/>
<rect x="192.00" y="152.72" width="16.20" height="2.52" fill="#3dbfe8"/>
<rect x="192.00" y="154.24" width="16.20" height="2.52" fill="#2d4899"/>
<rect x="192.00" y="155.76" width="16.20" height="3.53" fill="#3dbfe8"/>
<rect x="192.00" y="158.29" width="16.20" height="4.04" fill="#3a63ad"/>
<rect x="192.00" y="161.33" width="16.20" height="3.02" fill="#3a80c5"/>
<rect x="192.00" y="163.35" width="16.20" height="15.17" fill="#3558a5"/>
<rect x="192.00" y="177.52" width="16.20" height="6.48" fill="#33509f"/>
<rect x="192.00" y="183.00" width="16.20" height="3.02" fill="#3a70b8"/>
<rect x="192.00" y="185.02" width="16.20" height="8.09" fill="#3a63ad"/>
<rect x="192.00" y="192.11" width="16.20" height="5.05" fill="#3558a5"/>
<rect x="192.00" y="196.16" width="16.20" height="4.54" fill="#2d44a0"/>
<rect x="192.00" y="199.70" width="16.20" height="4.04" fill="#3a68b2"/>
<rect x="192.00" y="202.74" width="16.20" height="4.54" fill="#2d44a0"/>
<rect x="192.00" y="206.28" width="16.20" height="3.53" fill="#3a63ad"/>
<rect x="192.00" y="208.81" width="16.20" height="27.49" fill="#262b7a"/>
<rect x="207.20" y="35.50" width="18.50" height="8.59" fill="#7d1517"/>
<rect x="207.20" y="43.09" width="18.50" height="7.07" fill="#c01e25"/>
<rect x="207.20" y="49.16" width="18.50" height="4.54" fill="#e3222a"/>
<rect x="207.20" y="52.70" width="18.50" height="3.02" fill="#ee4a26"/>
<rect x="207.20" y="54.72" width="18.50" height="4.54" fill="#e8302a"/>
<rect x="207.20" y="58.27" width="18.50" height="3.02" fill="#f47a20"/>
<rect x="207.20" y="60.29" width="18.50" height="4.04" fill="#ee5a24"/>
<rect x="207.20" y="63.33" width="18.50" height="4.04" fill="#f9a51b"/>
<rect x="207.20" y="66.36" width="18.50" height="4.04" fill="#fcd414"/>
<rect x="207.20" y="69.40" width="18.50" height="2.52" fill="#f9a51b"/>
<rect x="207.20" y="70.92" width="18.50" height="4.04" fill="#f5e01a"/>
<rect x="207.20" y="73.96" width="18.50" height="3.53" fill="#f9a51b"/>
<rect x="207.20" y="76.49" width="18.50" height="3.02" fill="#fdd20f"/>
<rect x="207.20" y="78.51" width="18.50" height="3.53" fill="#f0e31e"/>
<rect x="207.20" y="81.04" width="18.50" height="4.96" fill="#e6e023"/>
<rect x="207.20" y="85.00" width="18.50" height="5.05" fill="#f0e31e"/>
<rect x="207.20" y="89.05" width="18.50" height="10.11" fill="#d5da30"/>
<rect x="207.20" y="98.16" width="18.50" height="6.06" fill="#a6c85a"/>
<rect x="207.20" y="103.22" width="18.50" height="8.09" fill="#9ec66a"/>
<rect x="207.20" y="110.30" width="18.50" height="6.06" fill="#8ec48a"/>
<rect x="207.20" y="115.36" width="18.50" height="7.07" fill="#86c494"/>
<rect x="207.20" y="121.44" width="18.50" height="3.02" fill="#3dbfe8"/>
<rect x="207.20" y="123.46" width="18.50" height="5.05" fill="#75c3b2"/>
<rect x="207.20" y="127.51" width="18.50" height="7.49" fill="#5ec3d0"/>
<rect x="207.20" y="134.00" width="18.50" height="3.02" fill="#3dbfe8"/>
<rect x="207.20" y="136.02" width="18.50" height="8.09" fill="#75c3c0"/>
<rect x="207.20" y="143.11" width="18.50" height="2.52" fill="#5ec3d0"/>
<rect x="207.20" y="144.63" width="18.50" height="7.07" fill="#3dbfe8"/>
<rect x="207.20" y="150.70" width="18.50" height="3.53" fill="#3aa0dc"/>
<rect x="207.20" y="153.23" width="18.50" height="5.05" fill="#3a70b8"/>
<rect x="207.20" y="157.28" width="18.50" height="5.05" fill="#3a63ad"/>
<rect x="207.20" y="161.33" width="18.50" height="4.04" fill="#3a70b8"/>
<rect x="207.20" y="164.36" width="18.50" height="4.04" fill="#3558a5"/>
<rect x="207.20" y="167.40" width="18.50" height="10.11" fill="#33509f"/>
<rect x="207.20" y="176.51" width="18.50" height="7.49" fill="#2d4899"/>
<rect x="207.20" y="183.00" width="18.50" height="7.07" fill="#3a5fac"/>
<rect x="207.20" y="189.07" width="18.50" height="5.05" fill="#3558a5"/>
<rect x="207.20" y="193.12" width="18.50" height="6.06" fill="#2d44a0"/>
<rect x="207.20" y="198.18" width="18.50" height="3.02" fill="#3558a5"/>
<rect x="207.20" y="200.21" width="18.50" height="3.02" fill="#252a78"/>
<rect x="207.20" y="202.23" width="18.50" height="4.54" fill="#2d44a0"/>
<rect x="207.20" y="205.77" width="18.50" height="30.53" fill="#262b7a"/><rect x="35" y="35" width="4.9" height="200" fill="#300020" fill-opacity="0.13"/></g></g>
<text transform="translate(232.4,235.5) rotate(-90)" font-size="9.4" fill="#222" stroke="#222" stroke-width="0.12">log STK phosphorylation</text>
<g filter="url(#bl2)"><rect x="237.1" y="138.00" width="10.4" height="5.00" fill="#7d1517"/>
<rect x="237.1" y="142.60" width="10.4" height="4.90" fill="#a8191f"/>
<rect x="237.1" y="147.10" width="10.4" height="5.00" fill="#d92027"/>
<rect x="237.1" y="151.70" width="10.4" height="4.90" fill="#e8232a"/>
<rect x="237.1" y="156.20" width="10.4" height="5.50" fill="#ee4a26"/>
<rect x="237.1" y="161.30" width="10.4" height="5.00" fill="#f47a20"/>
<rect x="237.1" y="165.90" width="10.4" height="5.40" fill="#f9a51b"/>
<rect x="237.1" y="170.90" width="10.4" height="5.00" fill="#fdd20f"/>
<rect x="237.1" y="175.50" width="10.4" height="5.90" fill="#e9e520"/>
<rect x="237.1" y="181.00" width="10.4" height="4.90" fill="#c5d83c"/>
<rect x="237.1" y="185.50" width="10.4" height="4.90" fill="#a6c85a"/>
<rect x="237.1" y="190.00" width="10.4" height="5.00" fill="#8ec48a"/>
<rect x="237.1" y="194.60" width="10.4" height="5.00" fill="#6fc2b4"/>
<rect x="237.1" y="199.20" width="10.4" height="9.90" fill="#3dbfe8"/>
<rect x="237.1" y="208.70" width="10.4" height="4.90" fill="#3d6ab2"/>
<rect x="237.1" y="213.20" width="10.4" height="4.90" fill="#3a5aa8"/>
<rect x="237.1" y="217.70" width="10.4" height="5.30" fill="#3550a2"/>
<rect x="237.1" y="222.60" width="10.4" height="5.60" fill="#2f4597"/>
<rect x="237.1" y="227.80" width="10.4" height="3.70" fill="#273790"/>
<rect x="237.1" y="231.10" width="10.4" height="1.20" fill="#22308a"/></g>
<text x="251.2" y="146" font-size="7.4" fill="#222" stroke="#222" stroke-width="0.12">10.0</text>
<text x="251.2" y="229.7" font-size="7.4" fill="#222" stroke="#222" stroke-width="0.12">3.0</text>
<text x="282" y="16.2" font-size="10.5" font-weight="bold" fill="#000" stroke="#000" stroke-width="0.12">B</text>
<text x="349.5" y="34.0" font-size="9.2" fill="#222" stroke="#222" stroke-width="0.12">MM1.s</text>
<text x="422.4" y="34.0" font-size="9.2" fill="#222" stroke="#222" stroke-width="0.12">OPM-2</text>
<defs><clipPath id="cl"><circle cx="362.1" cy="112.6" r="72.5"/></clipPath></defs>
<circle cx="362.1" cy="112.6" r="72.5" fill="#d1e8d2"/>
<circle cx="435.7" cy="112.6" r="72.5" fill="#c9e8f7"/>
<circle cx="435.7" cy="112.6" r="72.5" fill="#a3d9d3" clip-path="url(#cl)"/>
<circle cx="362.1" cy="112.6" r="72.5" fill="none" stroke="#aab0ab" stroke-width="0.8"/>
<circle cx="435.7" cy="112.6" r="72.5" fill="none" stroke="#b0b3b6" stroke-width="0.8"/>
<text x="328" y="74.3" font-size="7.65" font-weight="bold" fill="#111" stroke="#111" stroke-width="0.12" text-anchor="middle">23</text>
<text x="399.7" y="74.3" font-size="7.65" font-weight="bold" fill="#111" stroke="#111" stroke-width="0.12" text-anchor="middle">13</text>
<text x="471.2" y="74.3" font-size="7.65" font-weight="bold" fill="#111" stroke="#111" stroke-width="0.12" text-anchor="middle">24</text>
<text x="297.8" y="94.9" font-size="7.65" fill="#111" stroke="#111" stroke-width="0.12">Akt1 targets (7):</text>
<text x="312.8" y="105.50" font-size="7.65" fill="#111" stroke="#111" stroke-width="0.12">RAF1</text>
<text x="312.8" y="114.37" font-size="7.65" fill="#111" stroke="#111" stroke-width="0.12">NUR77</text>
<text x="312.8" y="123.24" font-size="7.65" fill="#111" stroke="#111" stroke-width="0.12">P21 CIP</text>
<text x="312.8" y="132.11" font-size="7.65" fill="#111" stroke="#111" stroke-width="0.12">CD27</text>
<text x="312.8" y="140.98" font-size="7.65" fill="#111" stroke="#111" stroke-width="0.12">CFTR</text>
<text x="312.8" y="149.85" font-size="7.65" fill="#111" stroke="#111" stroke-width="0.12">PPR1A</text>
<text x="312.8" y="158.72" font-size="7.65" fill="#111" stroke="#111" stroke-width="0.12">RYR1</text>
<text x="369.8" y="94.9" font-size="7.65" fill="#111" stroke="#111" stroke-width="0.12">Akt1 targets (7):</text>
<text x="384.6" y="105.50" font-size="7.65" fill="#111" stroke="#111" stroke-width="0.12">ADRB2</text>
<text x="384.6" y="114.37" font-size="7.65" fill="#111" stroke="#111" stroke-width="0.12">NMDA1</text>
<text x="384.6" y="123.24" font-size="7.65" fill="#111" stroke="#111" stroke-width="0.12">S6</text>
<text x="384.6" y="132.11" font-size="7.65" fill="#111" stroke="#111" stroke-width="0.12">KPB1</text>
<text x="384.6" y="140.98" font-size="7.65" fill="#111" stroke="#111" stroke-width="0.12">mTOR</text>
<text x="384.6" y="149.85" font-size="7.65" fill="#111" stroke="#111" stroke-width="0.12">BAD</text>
<text x="384.6" y="158.72" font-size="7.65" fill="#111" stroke="#111" stroke-width="0.12">p47phox</text>
<text x="441.8" y="94.9" font-size="7.65" fill="#111" stroke="#111" stroke-width="0.12">Akt1 targets (5):</text>
<text x="456" y="105.50" font-size="7.65" fill="#111" stroke="#111" stroke-width="0.12">PFKFB3</text>
<text x="456" y="114.37" font-size="7.65" fill="#111" stroke="#111" stroke-width="0.12">PHF20</text>
<text x="456" y="123.24" font-size="7.65" fill="#111" stroke="#111" stroke-width="0.12">LSHB</text>
<text x="456" y="132.11" font-size="7.65" fill="#111" stroke="#111" stroke-width="0.12">PFKAL</text>
<text x="456" y="140.98" font-size="7.65" fill="#111" stroke="#111" stroke-width="0.12">SCN7A</text>
<text x="9.7" y="257.0" font-size="11" font-weight="bold" fill="#000" stroke="#000" stroke-width="0.12">C</text>
<text x="34.8" y="265.2" font-size="7.6" fill="#333" stroke="#333" stroke-width="0.12">MM1.s</text>
<text x="251" y="265.4" font-size="7.6" fill="#333" stroke="#333" stroke-width="0.12">OPM-2</text>
<line x1="128.2" y1="261.6" x2="128.2" y2="396.7" stroke="#5a5a5a" stroke-width="1.5"/>
<line x1="128.2" y1="262.4" x2="131.39999999999998" y2="262.4" stroke="#5a5a5a" stroke-width="1.1"/>
<line x1="128.2" y1="309.3" x2="131.39999999999998" y2="309.3" stroke="#5a5a5a" stroke-width="1.1"/>
<line x1="128.2" y1="329.2" x2="131.39999999999998" y2="329.2" stroke="#5a5a5a" stroke-width="1.1"/>
<text x="133.39999999999998" y="265.09999999999997" font-size="7.6" fill="#333" stroke="#333" stroke-width="0.12">0.01</text>
<text x="133.39999999999998" y="312.0" font-size="7.6" fill="#333" stroke="#333" stroke-width="0.12">0.05</text>
<text x="133.39999999999998" y="331.9" font-size="7.6" fill="#333" stroke="#333" stroke-width="0.12">0.10</text>
<line x1="38.8" y1="309.3" x2="126.69999999999999" y2="309.3" stroke="#333" stroke-width="1" stroke-dasharray="2.6 2.6"/>
<line x1="38.39999999999999" y1="396.7" x2="217.99999999999997" y2="396.7" stroke="#555" stroke-width="1.3"/>
<line x1="39.099999999999994" y1="396.5" x2="39.099999999999994" y2="399.6" stroke="#555" stroke-width="1.3"/>
<text x="41.20" y="407.3" font-size="7.5" fill="#333" stroke="#333" stroke-width="0.12" text-anchor="end">-3</text>
<line x1="68.79999999999998" y1="396.5" x2="68.79999999999998" y2="399.6" stroke="#555" stroke-width="1.3"/>
<text x="70.90" y="407.3" font-size="7.5" fill="#333" stroke="#333" stroke-width="0.12" text-anchor="end">-2</text>
<line x1="98.49999999999999" y1="396.5" x2="98.49999999999999" y2="399.6" stroke="#555" stroke-width="1.3"/>
<text x="100.60" y="407.3" font-size="7.5" fill="#333" stroke="#333" stroke-width="0.12" text-anchor="end">-1</text>
<line x1="128.2" y1="396.5" x2="128.2" y2="399.6" stroke="#555" stroke-width="1.3"/>
<text x="128.20" y="407.3" font-size="7.5" fill="#333" stroke="#333" stroke-width="0.12" text-anchor="middle">0</text>
<line x1="157.89999999999998" y1="396.5" x2="157.89999999999998" y2="399.6" stroke="#555" stroke-width="1.3"/>
<text x="157.90" y="407.3" font-size="7.5" fill="#333" stroke="#333" stroke-width="0.12" text-anchor="middle">1</text>
<line x1="187.6" y1="396.5" x2="187.6" y2="399.6" stroke="#555" stroke-width="1.3"/>
<text x="187.60" y="407.3" font-size="7.5" fill="#333" stroke="#333" stroke-width="0.12" text-anchor="middle">2</text>
<line x1="217.29999999999998" y1="396.5" x2="217.29999999999998" y2="399.6" stroke="#555" stroke-width="1.3"/>
<text x="217.30" y="407.3" font-size="7.5" fill="#333" stroke="#333" stroke-width="0.12" text-anchor="middle">3</text>
<g fill="none" stroke="#111" stroke-width="0.8">
<circle cx="47.10" cy="291.80" r="2.2"/>
<circle cx="68.80" cy="300.90" r="2.2"/>
<circle cx="55.60" cy="306.20" r="2.2"/>
<circle cx="58.40" cy="315.20" r="2.2"/>
<circle cx="84.30" cy="315.20" r="2.2"/>
<circle cx="85.20" cy="317.20" r="2.2"/>
<circle cx="80.90" cy="323.90" r="2.2"/>
<circle cx="85.30" cy="327.90" r="2.2"/>
<circle cx="70.90" cy="334.40" r="2.2"/>
<circle cx="72.70" cy="336.00" r="2.2"/>
<circle cx="82.40" cy="339.90" r="2.2"/>
<circle cx="86.50" cy="343.00" r="2.2"/>
<circle cx="72.70" cy="343.30" r="2.2"/>
<circle cx="76.00" cy="345.30" r="2.2"/>
<circle cx="78.70" cy="347.30" r="2.2"/>
<circle cx="86.90" cy="347.30" r="2.2"/>
<circle cx="81.80" cy="349.20" r="2.2"/>
<circle cx="79.60" cy="351.30" r="2.2"/>
<circle cx="88.40" cy="352.40" r="2.2"/>
<circle cx="90.80" cy="355.90" r="2.2"/>
<circle cx="81.70" cy="358.30" r="2.2"/>
<circle cx="86.20" cy="357.20" r="2.2"/>
<circle cx="87.30" cy="358.40" r="2.2"/>
<circle cx="102.70" cy="377.70" r="2.2"/>
<circle cx="105.80" cy="381.80" r="2.2"/>
<circle cx="111.20" cy="388.80" r="2.2"/>
<circle cx="122.70" cy="395.20" r="2.2"/>
<circle cx="128.60" cy="396.00" r="2.2"/>
<circle cx="102.70" cy="396.20" r="2.2"/>
<circle cx="99.60" cy="391.50" r="2.2"/>
<circle cx="86.69" cy="362.23" r="2.2"/>
<circle cx="90.24" cy="363.07" r="2.2"/>
<circle cx="88.88" cy="362.62" r="2.2"/>
<circle cx="87.93" cy="363.98" r="2.2"/>
<circle cx="89.43" cy="360.31" r="2.2"/>
<circle cx="89.70" cy="363.76" r="2.2"/>
<circle cx="91.22" cy="362.45" r="2.2"/>
<circle cx="87.76" cy="363.07" r="2.2"/>
<circle cx="86.53" cy="362.79" r="2.2"/>
<circle cx="91.46" cy="362.98" r="2.2"/>
<circle cx="87.52" cy="361.18" r="2.2"/>
<circle cx="90.14" cy="363.99" r="2.2"/>
<circle cx="90.57" cy="365.07" r="2.2"/>
<circle cx="91.02" cy="363.94" r="2.2"/>
<circle cx="90.69" cy="366.02" r="2.2"/>
<circle cx="91.42" cy="364.66" r="2.2"/>
<circle cx="90.41" cy="365.17" r="2.2"/>
<circle cx="92.45" cy="364.33" r="2.2"/>
<circle cx="91.22" cy="367.58" r="2.2"/>
<circle cx="92.50" cy="365.94" r="2.2"/>
<circle cx="90.10" cy="368.94" r="2.2"/>
<circle cx="90.75" cy="364.52" r="2.2"/>
<circle cx="90.28" cy="367.57" r="2.2"/>
<circle cx="92.04" cy="367.57" r="2.2"/>
<circle cx="90.68" cy="367.85" r="2.2"/>
<circle cx="90.03" cy="365.78" r="2.2"/>
<circle cx="89.96" cy="368.50" r="2.2"/>
<circle cx="90.42" cy="366.49" r="2.2"/>
<circle cx="90.95" cy="364.01" r="2.2"/>
<circle cx="91.79" cy="367.07" r="2.2"/>
<circle cx="91.98" cy="369.14" r="2.2"/>
<circle cx="92.62" cy="372.61" r="2.2"/>
<circle cx="93.05" cy="370.12" r="2.2"/>
<circle cx="91.60" cy="371.66" r="2.2"/>
<circle cx="93.67" cy="370.89" r="2.2"/>
<circle cx="95.50" cy="369.91" r="2.2"/>
<circle cx="90.89" cy="368.69" r="2.2"/>
<circle cx="93.74" cy="374.11" r="2.2"/>
<circle cx="94.50" cy="369.65" r="2.2"/>
<circle cx="90.52" cy="372.07" r="2.2"/>
<circle cx="93.51" cy="372.71" r="2.2"/>
<circle cx="95.41" cy="372.55" r="2.2"/>
<circle cx="90.70" cy="372.08" r="2.2"/>
<circle cx="93.46" cy="371.38" r="2.2"/>
<circle cx="92.23" cy="369.72" r="2.2"/>
<circle cx="96.92" cy="372.61" r="2.2"/>
<circle cx="92.02" cy="373.43" r="2.2"/>
<circle cx="92.70" cy="373.87" r="2.2"/>
<circle cx="93.72" cy="372.90" r="2.2"/>
<circle cx="93.59" cy="371.21" r="2.2"/>
<circle cx="92.40" cy="375.26" r="2.2"/>
<circle cx="97.67" cy="376.60" r="2.2"/>
<circle cx="95.75" cy="376.99" r="2.2"/>
<circle cx="96.17" cy="375.73" r="2.2"/>
<circle cx="95.01" cy="377.57" r="2.2"/>
<circle cx="96.21" cy="377.56" r="2.2"/>
<circle cx="95.86" cy="373.50" r="2.2"/>
<circle cx="94.30" cy="375.28" r="2.2"/>
<circle cx="94.71" cy="380.03" r="2.2"/>
<circle cx="94.44" cy="379.69" r="2.2"/>
<circle cx="93.02" cy="376.42" r="2.2"/>
<circle cx="98.70" cy="376.87" r="2.2"/>
<circle cx="97.01" cy="372.90" r="2.2"/>
<circle cx="97.92" cy="377.82" r="2.2"/>
<circle cx="93.90" cy="374.97" r="2.2"/>
<circle cx="97.75" cy="374.93" r="2.2"/>
<circle cx="97.30" cy="381.05" r="2.2"/>
<circle cx="98.98" cy="380.27" r="2.2"/>
<circle cx="99.44" cy="384.12" r="2.2"/>
<circle cx="98.14" cy="381.85" r="2.2"/>
<circle cx="97.80" cy="379.78" r="2.2"/>
<circle cx="100.32" cy="381.50" r="2.2"/>
<circle cx="94.74" cy="381.95" r="2.2"/>
<circle cx="100.46" cy="382.10" r="2.2"/>
<circle cx="96.71" cy="384.69" r="2.2"/>
<circle cx="100.17" cy="378.57" r="2.2"/>
<circle cx="96.02" cy="381.59" r="2.2"/>
<circle cx="96.15" cy="381.63" r="2.2"/>
<circle cx="102.48" cy="389.26" r="2.2"/>
<circle cx="98.24" cy="389.34" r="2.2"/>
<circle cx="103.10" cy="389.67" r="2.2"/>
<circle cx="100.07" cy="387.74" r="2.2"/>
<circle cx="101.17" cy="388.14" r="2.2"/>
<circle cx="100.57" cy="388.08" r="2.2"/>
<circle cx="101.37" cy="385.25" r="2.2"/>
<circle cx="101.96" cy="392.06" r="2.2"/>
<circle cx="99.25" cy="389.13" r="2.2"/>
<circle cx="98.83" cy="389.54" r="2.2"/>
<circle cx="103.41" cy="388.96" r="2.2"/>
<circle cx="103.73" cy="384.72" r="2.2"/>
<circle cx="110.39" cy="390.91" r="2.2"/>
<circle cx="107.78" cy="395.23" r="2.2"/>
<circle cx="108.29" cy="390.48" r="2.2"/>
<circle cx="108.06" cy="395.40" r="2.2"/>
<circle cx="108.20" cy="392.66" r="2.2"/>
<circle cx="106.69" cy="390.79" r="2.2"/>
<circle cx="104.73" cy="392.13" r="2.2"/>
<circle cx="107.43" cy="390.13" r="2.2"/>
<circle cx="104.13" cy="391.80" r="2.2"/>
<circle cx="105.78" cy="391.39" r="2.2"/>
<circle cx="111.87" cy="395.74" r="2.2"/>
<circle cx="116.73" cy="393.27" r="2.2"/>
<circle cx="111.60" cy="393.02" r="2.2"/>
<circle cx="116.67" cy="396.17" r="2.2"/>
<circle cx="112.69" cy="392.78" r="2.2"/>
<circle cx="114.39" cy="396.00" r="2.2"/>
<circle cx="116.66" cy="394.52" r="2.2"/>
<circle cx="116.01" cy="395.69" r="2.2"/>
<circle cx="120.20" cy="397.04" r="2.2"/>
<circle cx="118.54" cy="396.15" r="2.2"/>
<circle cx="117.75" cy="394.15" r="2.2"/>
<circle cx="123.46" cy="395.50" r="2.2"/>
<circle cx="122.28" cy="396.20" r="2.2"/>
<circle cx="122.93" cy="395.75" r="2.2"/>
</g>
<circle cx="82.4" cy="297.6" r="2.25" fill="#d0202a" stroke="#222" stroke-width="0.8"/>
<line x1="344.2" y1="261.6" x2="344.2" y2="396.7" stroke="#5a5a5a" stroke-width="1.5"/>
<line x1="344.2" y1="262.4" x2="347.4" y2="262.4" stroke="#5a5a5a" stroke-width="1.1"/>
<line x1="344.2" y1="310.5" x2="347.4" y2="310.5" stroke="#5a5a5a" stroke-width="1.1"/>
<line x1="344.2" y1="329.2" x2="347.4" y2="329.2" stroke="#5a5a5a" stroke-width="1.1"/>
<text x="349.4" y="265.09999999999997" font-size="7.6" fill="#333" stroke="#333" stroke-width="0.12">0.01</text>
<text x="349.4" y="313.2" font-size="7.6" fill="#333" stroke="#333" stroke-width="0.12">0.05</text>
<text x="349.4" y="331.9" font-size="7.6" fill="#333" stroke="#333" stroke-width="0.12">0.10</text>
<line x1="254.79999999999998" y1="310.5" x2="342.7" y2="310.5" stroke="#333" stroke-width="1" stroke-dasharray="2.6 2.6"/>
<line x1="254.4" y1="396.7" x2="433.99999999999994" y2="396.7" stroke="#555" stroke-width="1.3"/>
<line x1="255.1" y1="396.5" x2="255.1" y2="399.6" stroke="#555" stroke-width="1.3"/>
<text x="257.20" y="407.3" font-size="7.5" fill="#333" stroke="#333" stroke-width="0.12" text-anchor="end">-3</text>
<line x1="284.8" y1="396.5" x2="284.8" y2="399.6" stroke="#555" stroke-width="1.3"/>
<text x="286.90" y="407.3" font-size="7.5" fill="#333" stroke="#333" stroke-width="0.12" text-anchor="end">-2</text>
<line x1="314.5" y1="396.5" x2="314.5" y2="399.6" stroke="#555" stroke-width="1.3"/>
<text x="316.60" y="407.3" font-size="7.5" fill="#333" stroke="#333" stroke-width="0.12" text-anchor="end">-1</text>
<line x1="344.2" y1="396.5" x2="344.2" y2="399.6" stroke="#555" stroke-width="1.3"/>
<text x="344.20" y="407.3" font-size="7.5" fill="#333" stroke="#333" stroke-width="0.12" text-anchor="middle">0</text>
<line x1="373.9" y1="396.5" x2="373.9" y2="399.6" stroke="#555" stroke-width="1.3"/>
<text x="373.90" y="407.3" font-size="7.5" fill="#333" stroke="#333" stroke-width="0.12" text-anchor="middle">1</text>
<line x1="403.59999999999997" y1="396.5" x2="403.59999999999997" y2="399.6" stroke="#555" stroke-width="1.3"/>
<text x="403.60" y="407.3" font-size="7.5" fill="#333" stroke="#333" stroke-width="0.12" text-anchor="middle">2</text>
<line x1="433.29999999999995" y1="396.5" x2="433.29999999999995" y2="399.6" stroke="#555" stroke-width="1.3"/>
<text x="433.30" y="407.3" font-size="7.5" fill="#333" stroke="#333" stroke-width="0.12" text-anchor="middle">3</text>
<g fill="none" stroke="#111" stroke-width="0.8">
<circle cx="266.70" cy="281.80" r="2.2"/>
<circle cx="272.00" cy="295.50" r="2.2"/>
<circle cx="295.60" cy="307.30" r="2.2"/>
<circle cx="307.40" cy="315.60" r="2.2"/>
<circle cx="307.90" cy="316.40" r="2.2"/>
<circle cx="269.10" cy="319.30" r="2.2"/>
<circle cx="288.00" cy="322.10" r="2.2"/>
<circle cx="285.70" cy="326.40" r="2.2"/>
<circle cx="290.70" cy="326.00" r="2.2"/>
<circle cx="274.80" cy="329.50" r="2.2"/>
<circle cx="295.60" cy="330.20" r="2.2"/>
<circle cx="295.10" cy="333.00" r="2.2"/>
<circle cx="308.20" cy="332.00" r="2.2"/>
<circle cx="308.60" cy="332.80" r="2.2"/>
<circle cx="299.30" cy="340.30" r="2.2"/>
<circle cx="303.70" cy="338.90" r="2.2"/>
<circle cx="310.70" cy="344.20" r="2.2"/>
<circle cx="290.50" cy="348.20" r="2.2"/>
<circle cx="294.60" cy="349.40" r="2.2"/>
<circle cx="306.20" cy="347.70" r="2.2"/>
<circle cx="308.20" cy="349.70" r="2.2"/>
<circle cx="300.90" cy="353.30" r="2.2"/>
<circle cx="308.00" cy="352.80" r="2.2"/>
<circle cx="306.70" cy="357.30" r="2.2"/>
<circle cx="309.20" cy="357.30" r="2.2"/>
<circle cx="313.50" cy="358.30" r="2.2"/>
<circle cx="313.80" cy="362.40" r="2.2"/>
<circle cx="308.20" cy="364.90" r="2.2"/>
<circle cx="311.30" cy="364.90" r="2.2"/>
<circle cx="313.50" cy="373.50" r="2.2"/>
<circle cx="321.40" cy="374.50" r="2.2"/>
<circle cx="366.20" cy="382.60" r="2.2"/>
<circle cx="358.80" cy="388.30" r="2.2"/>
<circle cx="356.80" cy="388.70" r="2.2"/>
<circle cx="354.10" cy="391.60" r="2.2"/>
<circle cx="350.80" cy="392.30" r="2.2"/>
<circle cx="348.10" cy="394.70" r="2.2"/>
<circle cx="344.00" cy="396.10" r="2.2"/>
<circle cx="306.70" cy="358.00" r="2.2"/>
<circle cx="307.70" cy="365.40" r="2.2"/>
<circle cx="310.93" cy="366.76" r="2.2"/>
<circle cx="313.08" cy="359.53" r="2.2"/>
<circle cx="311.82" cy="365.54" r="2.2"/>
<circle cx="313.68" cy="363.60" r="2.2"/>
<circle cx="311.96" cy="363.87" r="2.2"/>
<circle cx="314.21" cy="362.75" r="2.2"/>
<circle cx="315.18" cy="368.33" r="2.2"/>
<circle cx="312.43" cy="371.54" r="2.2"/>
<circle cx="315.61" cy="371.80" r="2.2"/>
<circle cx="315.93" cy="368.12" r="2.2"/>
<circle cx="316.21" cy="365.12" r="2.2"/>
<circle cx="315.70" cy="368.36" r="2.2"/>
<circle cx="312.23" cy="369.21" r="2.2"/>
<circle cx="314.47" cy="369.30" r="2.2"/>
<circle cx="316.77" cy="366.30" r="2.2"/>
<circle cx="316.37" cy="367.09" r="2.2"/>
<circle cx="311.92" cy="370.25" r="2.2"/>
<circle cx="317.03" cy="369.28" r="2.2"/>
<circle cx="313.99" cy="372.09" r="2.2"/>
<circle cx="312.97" cy="371.39" r="2.2"/>
<circle cx="316.99" cy="377.56" r="2.2"/>
<circle cx="314.52" cy="375.71" r="2.2"/>
<circle cx="321.35" cy="376.61" r="2.2"/>
<circle cx="317.39" cy="377.25" r="2.2"/>
<circle cx="317.44" cy="374.87" r="2.2"/>
<circle cx="315.29" cy="376.35" r="2.2"/>
<circle cx="315.86" cy="376.11" r="2.2"/>
<circle cx="315.08" cy="375.39" r="2.2"/>
<circle cx="319.38" cy="377.27" r="2.2"/>
<circle cx="315.58" cy="376.81" r="2.2"/>
<circle cx="318.61" cy="376.30" r="2.2"/>
<circle cx="317.76" cy="372.76" r="2.2"/>
<circle cx="320.38" cy="375.07" r="2.2"/>
<circle cx="320.53" cy="376.66" r="2.2"/>
<circle cx="320.30" cy="376.82" r="2.2"/>
<circle cx="318.14" cy="378.45" r="2.2"/>
<circle cx="317.66" cy="375.08" r="2.2"/>
<circle cx="317.77" cy="376.20" r="2.2"/>
<circle cx="322.25" cy="378.97" r="2.2"/>
<circle cx="318.32" cy="382.43" r="2.2"/>
<circle cx="324.05" cy="380.40" r="2.2"/>
<circle cx="320.52" cy="383.64" r="2.2"/>
<circle cx="324.20" cy="382.46" r="2.2"/>
<circle cx="324.54" cy="381.07" r="2.2"/>
<circle cx="322.89" cy="381.20" r="2.2"/>
<circle cx="317.87" cy="380.52" r="2.2"/>
<circle cx="319.68" cy="378.71" r="2.2"/>
<circle cx="323.69" cy="382.31" r="2.2"/>
<circle cx="317.79" cy="380.43" r="2.2"/>
<circle cx="319.42" cy="381.21" r="2.2"/>
<circle cx="320.43" cy="377.77" r="2.2"/>
<circle cx="318.95" cy="379.56" r="2.2"/>
<circle cx="316.97" cy="379.89" r="2.2"/>
<circle cx="318.18" cy="378.85" r="2.2"/>
<circle cx="321.05" cy="377.38" r="2.2"/>
<circle cx="324.13" cy="381.79" r="2.2"/>
<circle cx="321.87" cy="385.63" r="2.2"/>
<circle cx="326.48" cy="384.24" r="2.2"/>
<circle cx="327.62" cy="387.66" r="2.2"/>
<circle cx="323.57" cy="383.60" r="2.2"/>
<circle cx="322.85" cy="387.97" r="2.2"/>
<circle cx="323.84" cy="383.96" r="2.2"/>
<circle cx="322.91" cy="383.96" r="2.2"/>
<circle cx="323.32" cy="388.72" r="2.2"/>
<circle cx="323.63" cy="389.46" r="2.2"/>
<circle cx="323.82" cy="389.07" r="2.2"/>
<circle cx="325.61" cy="385.35" r="2.2"/>
<circle cx="325.62" cy="386.62" r="2.2"/>
<circle cx="323.13" cy="384.32" r="2.2"/>
<circle cx="327.42" cy="386.99" r="2.2"/>
<circle cx="324.92" cy="386.53" r="2.2"/>
<circle cx="326.24" cy="385.25" r="2.2"/>
<circle cx="329.96" cy="391.88" r="2.2"/>
<circle cx="328.01" cy="391.08" r="2.2"/>
<circle cx="325.25" cy="389.35" r="2.2"/>
<circle cx="328.34" cy="387.51" r="2.2"/>
<circle cx="327.44" cy="387.54" r="2.2"/>
<circle cx="325.12" cy="390.01" r="2.2"/>
<circle cx="324.88" cy="393.13" r="2.2"/>
<circle cx="326.51" cy="394.72" r="2.2"/>
<circle cx="326.60" cy="389.68" r="2.2"/>
<circle cx="325.90" cy="390.42" r="2.2"/>
<circle cx="326.23" cy="392.77" r="2.2"/>
<circle cx="329.15" cy="390.82" r="2.2"/>
<circle cx="326.85" cy="390.81" r="2.2"/>
<circle cx="328.03" cy="386.82" r="2.2"/>
<circle cx="332.43" cy="391.82" r="2.2"/>
<circle cx="334.41" cy="393.24" r="2.2"/>
<circle cx="330.21" cy="391.41" r="2.2"/>
<circle cx="331.06" cy="391.93" r="2.2"/>
<circle cx="332.70" cy="393.86" r="2.2"/>
<circle cx="330.95" cy="394.37" r="2.2"/>
<circle cx="329.85" cy="395.64" r="2.2"/>
<circle cx="335.46" cy="395.91" r="2.2"/>
<circle cx="332.02" cy="393.93" r="2.2"/>
<circle cx="333.69" cy="391.97" r="2.2"/>
<circle cx="331.89" cy="393.96" r="2.2"/>
<circle cx="330.91" cy="391.13" r="2.2"/>
<circle cx="341.68" cy="395.59" r="2.2"/>
<circle cx="339.40" cy="397.02" r="2.2"/>
<circle cx="340.39" cy="395.07" r="2.2"/>
<circle cx="342.94" cy="395.87" r="2.2"/>
<circle cx="336.00" cy="395.82" r="2.2"/>
<circle cx="336.85" cy="394.32" r="2.2"/>
<circle cx="341.81" cy="396.47" r="2.2"/>
<circle cx="336.15" cy="394.81" r="2.2"/>
</g>
<circle cx="303.8" cy="287.0" r="2.25" fill="#d0202a" stroke="#222" stroke-width="0.8"/>
<rect x="38.7" y="417" width="179" height="16" fill="#6d6e71"/>
<rect x="38.7" y="417" width="179" height="1.6" fill="#3a3a3c"/>
<rect x="38.7" y="432" width="179" height="1.5" fill="#3a3a3c"/>
<rect x="38.7" y="446.5" width="179" height="13" fill="#dcddde"/>
<rect x="38.7" y="472.5" width="179" height="13" fill="#dcddde"/>
<rect x="38.7" y="485.3" width="179" height="1.6" fill="#3a3a3c"/>
<text x="49.800000000000004" y="427.8" font-size="7.6" font-weight="bold" fill="#fff" stroke="#fff" stroke-width="0.12">kinase</text>
<text x="124.4" y="427.8" font-size="7.6" font-weight="bold" fill="#fff" stroke="#fff" stroke-width="0.12" text-anchor="middle">effect</text>
<text x="183.5" y="427.8" font-size="7.6" font-weight="bold" fill="#fff" stroke="#fff" stroke-width="0.12" text-anchor="middle">specificity</text>
<text x="50.6" y="442.6" font-size="7.6" fill="#222" stroke="#222" stroke-width="0.12">CDK4</text>
<text x="123.4" y="442.6" font-size="7.6" fill="#222" stroke="#222" stroke-width="0.12" text-anchor="middle">-2.70</text>
<text x="184.3" y="442.6" font-size="7.6" fill="#222" stroke="#222" stroke-width="0.12" text-anchor="middle">0.028</text>
<text x="50.6" y="455.6" font-size="7.6" font-weight="bold" fill="#c1272d" stroke="#c1272d" stroke-width="0.12">AKT1</text>
<text x="123.4" y="455.6" font-size="7.6" fill="#222" stroke="#222" stroke-width="0.12" text-anchor="middle">-1.53</text>
<text x="184.3" y="455.6" font-size="7.6" fill="#222" stroke="#222" stroke-width="0.12" text-anchor="middle">0.034</text>
<text x="50.6" y="468.6" font-size="7.6" fill="#222" stroke="#222" stroke-width="0.12">CHED</text>
<text x="123.4" y="468.6" font-size="7.6" fill="#222" stroke="#222" stroke-width="0.12" text-anchor="middle">-1.98</text>
<text x="184.3" y="468.6" font-size="7.6" fill="#222" stroke="#222" stroke-width="0.12" text-anchor="middle">0.038</text>
<text x="50.6" y="481.6" font-size="7.6" fill="#222" stroke="#222" stroke-width="0.12">NIK</text>
<text x="123.4" y="481.6" font-size="7.6" fill="#222" stroke="#222" stroke-width="0.12" text-anchor="middle">-2.42</text>
<text x="184.3" y="481.6" font-size="7.6" fill="#222" stroke="#222" stroke-width="0.12" text-anchor="middle">0.046</text>
<rect x="254.8" y="417" width="179" height="16" fill="#6d6e71"/>
<rect x="254.8" y="417" width="179" height="1.6" fill="#3a3a3c"/>
<rect x="254.8" y="432" width="179" height="1.5" fill="#3a3a3c"/>
<rect x="254.8" y="446.5" width="179" height="13" fill="#dcddde"/>
<rect x="254.8" y="472.5" width="179" height="13" fill="#dcddde"/>
<rect x="254.8" y="485.3" width="179" height="1.6" fill="#3a3a3c"/>
<text x="265.90000000000003" y="427.8" font-size="7.6" font-weight="bold" fill="#fff" stroke="#fff" stroke-width="0.12">kinase</text>
<text x="340.5" y="427.8" font-size="7.6" font-weight="bold" fill="#fff" stroke="#fff" stroke-width="0.12" text-anchor="middle">effect</text>
<text x="399.6" y="427.8" font-size="7.6" font-weight="bold" fill="#fff" stroke="#fff" stroke-width="0.12" text-anchor="middle">specificity</text>
<text x="266.7" y="442.6" font-size="7.6" fill="#222" stroke="#222" stroke-width="0.12">SCLY4</text>
<text x="339.5" y="442.6" font-size="7.6" fill="#222" stroke="#222" stroke-width="0.12" text-anchor="middle">-2.59</text>
<text x="400.4" y="442.6" font-size="7.6" fill="#222" stroke="#222" stroke-width="0.12" text-anchor="middle">0.020</text>
<text x="266.7" y="455.6" font-size="7.6" font-weight="bold" fill="#c1272d" stroke="#c1272d" stroke-width="0.12">AKT1</text>
<text x="339.5" y="455.6" font-size="7.6" fill="#222" stroke="#222" stroke-width="0.12" text-anchor="middle">-1.35</text>
<text x="400.4" y="455.6" font-size="7.6" fill="#222" stroke="#222" stroke-width="0.12" text-anchor="middle">0.024</text>
<text x="266.7" y="468.6" font-size="7.6" fill="#222" stroke="#222" stroke-width="0.12">ZC 1/3</text>
<text x="339.5" y="468.6" font-size="7.6" fill="#222" stroke="#222" stroke-width="0.12" text-anchor="middle">-2.42</text>
<text x="400.4" y="468.6" font-size="7.6" fill="#222" stroke="#222" stroke-width="0.12" text-anchor="middle">0.032</text>
<text x="266.7" y="481.6" font-size="7.6" fill="#222" stroke="#222" stroke-width="0.12">CAMK2g</text>
<text x="339.5" y="481.6" font-size="7.6" fill="#222" stroke="#222" stroke-width="0.12" text-anchor="middle">-1.63</text>
<text x="400.4" y="481.6" font-size="7.6" fill="#222" stroke="#222" stroke-width="0.12" text-anchor="middle">0.048</text>
</svg></div><div id="bd"></div></div></body></html>
